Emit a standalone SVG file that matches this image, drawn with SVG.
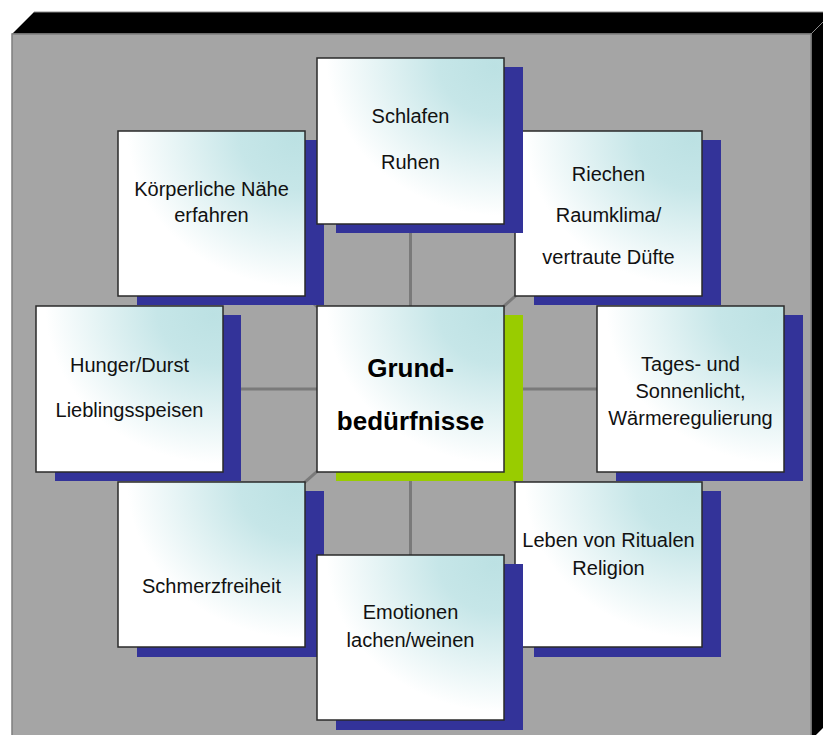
<svg xmlns="http://www.w3.org/2000/svg" width="823" height="735" viewBox="0 0 823 735">
<style>
.sh{fill:#333399}
.shc{fill:#99cc00}
.bx{fill:url(#g);stroke:#2a2a2a;stroke-width:1.5}
.t{font-family:"Liberation Sans",Arial,sans-serif;font-size:20px;fill:#111;text-anchor:middle}
.tb{font-family:"Liberation Sans",Arial,sans-serif;font-size:26px;font-weight:bold;fill:#000;text-anchor:middle}
.cn{stroke:#7a7a7a;stroke-width:3;fill:none}
</style>
<defs>
<radialGradient id="g" cx="1" cy="0" r="1.05" fx="0.95" fy="0.05">
<stop offset="0" stop-color="#bce1e3"/>
<stop offset="0.3" stop-color="#c6e6e8"/>
<stop offset="0.9" stop-color="#ffffff"/>
</radialGradient>
</defs>
<rect width="823" height="735" fill="#ffffff"/>
<g id="board">
<polygon points="12,34 34,12 833,12 811,34" fill="#000" stroke="#8a8a8a" stroke-width="1"/>
<polygon points="811,34 833,12 833,718 811,740" fill="#000" stroke="#8a8a8a" stroke-width="1"/>
<rect x="12" y="34" width="799" height="710" fill="#a5a5a5" stroke="#7f7f7f" stroke-width="1.5"/>
</g>
<g id="connectors">
<line class="cn" x1="410.5" y1="389" x2="410.5" y2="141"/>
<line class="cn" x1="410.5" y1="389" x2="410.5" y2="637.5"/>
<line class="cn" x1="410.5" y1="389" x2="129.5" y2="389"/>
<line class="cn" x1="410.5" y1="389" x2="690.5" y2="389"/>
<line class="cn" x1="410.5" y1="389" x2="211.5" y2="213.5"/>
<line class="cn" x1="410.5" y1="389" x2="608.5" y2="213.5"/>
<line class="cn" x1="410.5" y1="389" x2="211.5" y2="564.5"/>
<line class="cn" x1="410.5" y1="389" x2="608.5" y2="564.5"/>
</g>
<g id="n-koerper">
<rect class="sh" x="137" y="140" width="187" height="165"/>
<rect class="bx" x="118" y="131" width="187" height="165"/>
<text class="t" x="211.5" y="196">Körperliche Nähe</text>
<text class="t" x="211.5" y="222">erfahren</text>
</g>
<g id="n-riechen">
<rect class="sh" x="534" y="140" width="187" height="165"/>
<rect class="bx" x="515" y="131" width="187" height="165"/>
<text class="t" x="608.5" y="181">Riechen</text>
<text class="t" x="608.5" y="222">Raumklima/</text>
<text class="t" x="608.5" y="264">vertraute Düfte</text>
</g>
<g id="n-schlafen">
<rect class="sh" x="336" y="67" width="187" height="166"/>
<rect class="bx" x="317" y="58" width="187" height="166"/>
<text class="t" x="410.5" y="123">Schlafen</text>
<text class="t" x="410.5" y="169">Ruhen</text>
</g>
<g id="n-hunger">
<rect class="sh" x="55" y="315" width="186" height="166"/>
<rect class="bx" x="36" y="306" width="187" height="166"/>
<text class="t" x="129.5" y="372">Hunger/Durst</text>
<text class="t" x="129.5" y="417">Lieblingsspeisen</text>
</g>
<g id="n-center">
<rect class="shc" x="336" y="315" width="187" height="166"/>
<rect class="bx" x="317" y="306" width="187" height="166"/>
<text class="tb" x="410.5" y="377">Grund-</text>
<text class="tb" x="410.5" y="430">bedürfnisse</text>
</g>
<g id="n-tages">
<rect class="sh" x="616" y="315" width="187" height="166"/>
<rect class="bx" x="597" y="306" width="187" height="166"/>
<text class="t" x="690.5" y="371">Tages- und</text>
<text class="t" x="690.5" y="398">Sonnenlicht,</text>
<text class="t" x="690.5" y="425">Wärmeregulierung</text>
</g>
<g id="n-schmerz">
<rect class="sh" x="137" y="491" width="187" height="166"/>
<rect class="bx" x="118" y="482" width="187" height="165"/>
<text class="t" x="211.5" y="593">Schmerzfreiheit</text>
</g>
<g id="n-leben">
<rect class="sh" x="534" y="491" width="187" height="166"/>
<rect class="bx" x="515" y="482" width="187" height="165"/>
<text class="t" x="608.5" y="547">Leben von Ritualen</text>
<text class="t" x="608.5" y="575">Religion</text>
</g>
<g id="n-emotionen">
<rect class="sh" x="336" y="564" width="187" height="166"/>
<rect class="bx" x="317" y="555" width="187" height="165"/>
<text class="t" x="410.5" y="619">Emotionen</text>
<text class="t" x="410.5" y="647">lachen/weinen</text>
</g>
</svg>
